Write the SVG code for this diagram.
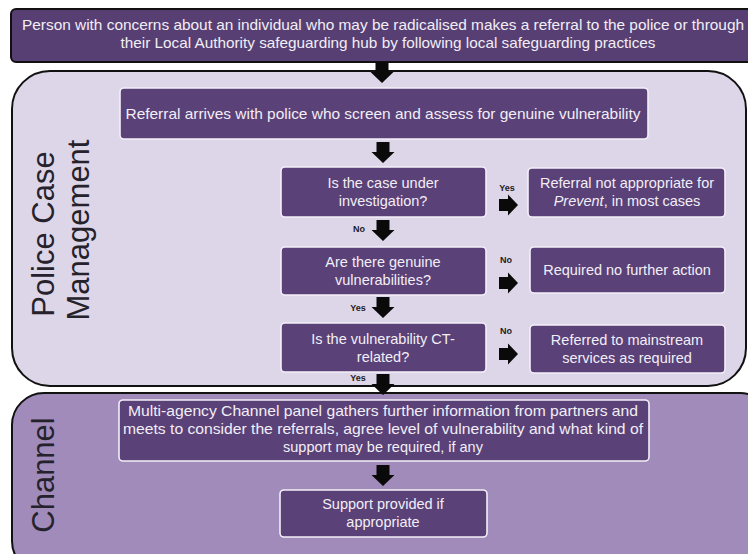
<svg xmlns="http://www.w3.org/2000/svg" width="748" height="554" viewBox="0 0 748 554">
<defs>
<style>
.box{fill:#5a4178;stroke:#f3eff8;stroke-width:1.6}
.t{font-family:"Liberation Sans",Arial,sans-serif;font-size:14.5px;fill:#f2eef6;text-anchor:middle}
.lbl{font-family:"Liberation Sans",Arial,sans-serif;font-size:9px;font-weight:bold;fill:#1e1a24;text-anchor:middle}
.side{font-family:"Liberation Sans",Arial,sans-serif;font-size:31px;fill:#25222b;text-anchor:middle}
.arr{fill:#0a0a0a}
</style>
<path id="down" d="M-6.5,0 H6.5 V10 H11.5 L0,21 L-11.5,10 H-6.5 Z"/>
<path id="right" d="M0,-6 H9 V-10.5 L19,0 L9,10.5 V6 H0 Z"/>
</defs>
<rect width="748" height="554" fill="#ffffff"/>

<g id="police-panel">
<rect x="12" y="71" width="734" height="315" rx="38" ry="38" fill="#ddd6e8" stroke="#111" stroke-width="2"/>
<text class="side" transform="translate(54,234) rotate(-90)">Police Case</text>
<text class="side" transform="translate(89,230) rotate(-90)">Management</text>
</g>

<g id="channel-panel">
<rect x="12" y="393" width="760" height="180" rx="32" ry="32" fill="#a08bbb" stroke="#111" stroke-width="2"/>
<text class="side" transform="translate(54,475) rotate(-90)">Channel</text>
</g>

<g id="referral-start">
<rect x="11" y="9" width="760" height="53" rx="5" fill="#573f73" stroke="#111" stroke-width="2"/>
<text class="t" x="383" y="30" textLength="722" lengthAdjust="spacingAndGlyphs">Person with concerns about an individual who may be radicalised makes a referral to the police or through</text>
<text class="t" x="388" y="48" textLength="535" lengthAdjust="spacingAndGlyphs">their Local Authority safeguarding hub by following local safeguarding practices</text>
</g>

<g id="screen">
<rect class="box" x="120" y="88" width="528" height="51" rx="4"/>
<text class="t" x="383" y="119" textLength="515" lengthAdjust="spacingAndGlyphs">Referral arrives with police who screen and assess for genuine vulnerability</text>
</g>

<g id="q-investigation">
<rect class="box" x="281" y="167" width="205" height="50" rx="4"/>
<text class="t" x="383" y="188">Is the case under</text>
<text class="t" x="383" y="206">investigation?</text>
</g>

<g id="not-appropriate">
<rect class="box" x="528" y="168" width="197" height="49" rx="4"/>
<text class="t" x="627" y="188">Referral not appropriate for</text>
<text class="t" x="627" y="206"><tspan font-style="italic">Prevent</tspan>, in most cases</text>
</g>

<g id="q-vulnerabilities">
<rect class="box" x="281" y="247" width="205" height="48" rx="4"/>
<text class="t" x="383" y="267">Are there genuine</text>
<text class="t" x="383" y="285">vulnerabilities?</text>
</g>

<g id="no-action">
<rect class="box" x="530" y="247" width="195" height="46" rx="4"/>
<text class="t" x="627" y="275">Required no further action</text>
</g>

<g id="q-ct">
<rect class="box" x="281" y="323" width="205" height="49" rx="4"/>
<text class="t" x="383" y="344">Is the vulnerability CT-</text>
<text class="t" x="383" y="362">related?</text>
</g>

<g id="mainstream">
<rect class="box" x="530" y="325" width="195" height="48" rx="4"/>
<text class="t" x="627" y="345">Referred to mainstream</text>
<text class="t" x="627" y="363">services as required</text>
</g>

<g id="channel-panel-box">
<rect class="box" x="119" y="400" width="530" height="61" rx="4"/>
<text class="t" x="383" y="416" textLength="510" lengthAdjust="spacingAndGlyphs">Multi-agency Channel panel gathers further information from partners and</text>
<text class="t" x="383" y="434" textLength="520" lengthAdjust="spacingAndGlyphs">meets to consider the referrals, agree level of vulnerability and what kind of</text>
<text class="t" x="383" y="452">support may be required, if any</text>
</g>

<g id="support">
<rect class="box" x="280" y="490" width="207" height="47" rx="4"/>
<text class="t" x="383" y="509">Support provided if</text>
<text class="t" x="383" y="527">appropriate</text>
</g>

<g id="connectors">
<use href="#down" class="arr" x="382" y="62"/>
<use href="#down" class="arr" x="383" y="142"/>
<use href="#down" class="arr" x="383" y="220"/>
<use href="#down" class="arr" x="383" y="297"/>
<use href="#down" class="arr" x="383" y="374"/>
<use href="#down" class="arr" x="383" y="465"/>
<use href="#right" class="arr" x="499" y="205"/>
<use href="#right" class="arr" x="499" y="283"/>
<use href="#right" class="arr" x="499" y="354"/>
<text class="lbl" x="507" y="191">Yes</text>
<text class="lbl" x="506" y="263">No</text>
<text class="lbl" x="506" y="334">No</text>
<text class="lbl" x="359" y="232">No</text>
<text class="lbl" x="358" y="311">Yes</text>
<text class="lbl" x="358" y="381">Yes</text>
</g>
</svg>
